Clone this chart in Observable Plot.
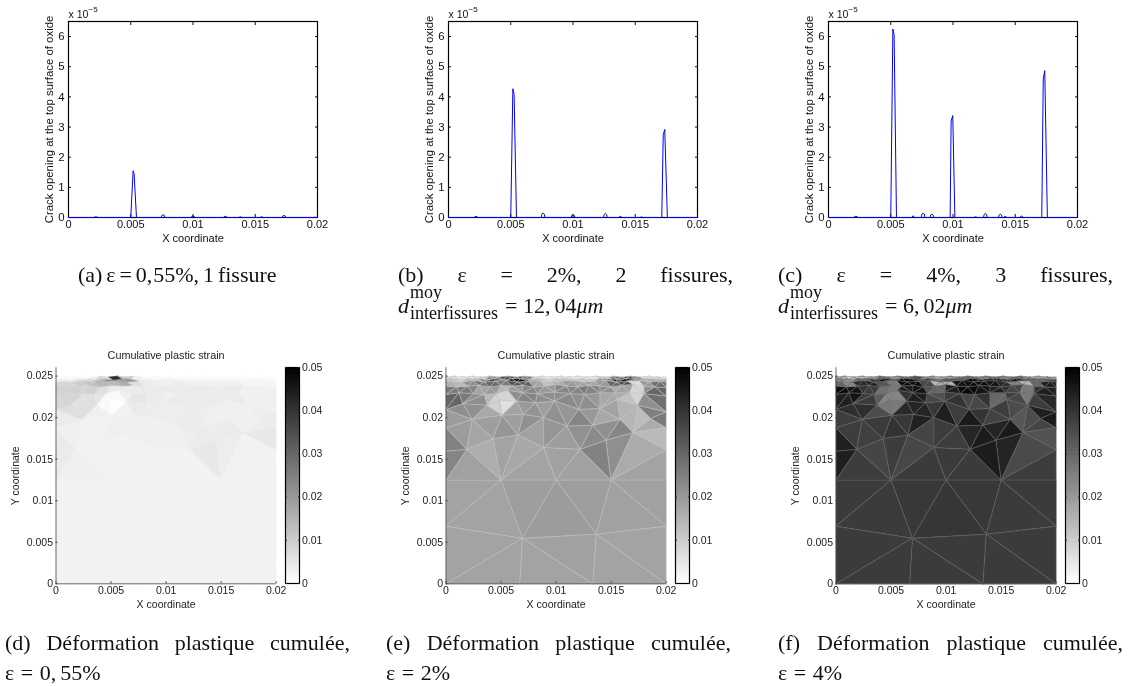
<!DOCTYPE html>
<html lang="fr"><head><meta charset="utf-8">
<script src="https://cdn.jsdelivr.net/npm/d3@7"></script>
<script src="https://cdn.jsdelivr.net/npm/@observablehq/plot@0.6"></script>
<style>
html,body{margin:0;padding:0;background:#fff}
#page{position:relative;width:1136px;height:686px;overflow:hidden;background:#fff}
.slot{position:absolute;filter:blur(0.35px)}
.slot svg{display:block;overflow:visible}
.cap{position:absolute;font-family:"Liberation Serif",serif;font-size:22px;line-height:20px;color:#111;white-space:nowrap;filter:blur(0.25px)}
.just{text-align:justify;text-align-last:justify;white-space:normal}
.ss{display:inline-block;vertical-align:top;position:relative;width:96px;height:20px;font-size:18px}
.ss span{position:absolute;left:1px}
.ss .up{top:-10px;line-height:12px}.ss .dn{top:9px;line-height:16px}
.c{margin-right:4px}
.c2{margin-right:1px}
</style></head><body><div id="page"></div>
<script>
// --- crack opening curves (x in model units, y in units of 1e-5)
const xTicks=[0,0.005,0.01,0.015,0.02];
const openTicks=[0,1,2,3,4,5,6];
const crackXA=[0,0.00205,0.0021,0.0022,0.0023,0.00235,0.005,0.00519,0.00527,0.00546,0.00745,0.0075,0.0076,0.0077,0.00775,0.00985,0.0099,0.01,0.0101,0.01015,0.01245,0.0125,0.0126,0.0127,0.01275,0.01365,0.0138,0.01395,0.01535,0.0155,0.01565,0.01715,0.0172,0.0173,0.0174,0.01745,0.0197,0.0198,0.0199,0.02];
const crackYA=[0,0,0.015,0.02,0.015,0,0,1.55,1.45,0,0,0.07,0.09,0.07,0,0,0.035,0.05,0.035,0,0,0.03,0.04,0.03,0,0,0.02,0,0,0.02,0,0,0.05,0.07,0.05,0,0,0.01,0,0];
const crackXB=[0,0.00205,0.0021,0.0022,0.0023,0.00235,0.005,0.00517,0.00527,0.00546,0.00745,0.0075,0.0076,0.0077,0.00775,0.00985,0.0099,0.01,0.0101,0.01015,0.01245,0.0125,0.0126,0.0127,0.01275,0.01365,0.0138,0.01395,0.01535,0.0155,0.01565,0.01713,0.01725,0.01737,0.01758,0.02];
const crackYB=[0,0,0.025,0.035,0.025,0,0,4.27,4.08,0,0,0.11,0.15,0.11,0,0,0.07,0.09,0.07,0,0,0.1,0.14,0.1,0,0,0.04,0,0,0.015,0,0,2.75,2.92,0,0];
const crackXC=[0,0.00205,0.0021,0.0022,0.0023,0.00235,0.005,0.00517,0.00527,0.00546,0.0067,0.0068,0.0069,0.00745,0.0075,0.0076,0.0077,0.00775,0.00815,0.0082,0.0083,0.0084,0.00845,0.00977,0.00985,0.00998,0.01015,0.01165,0.0118,0.01195,0.01245,0.0125,0.0126,0.0127,0.01275,0.01365,0.0137,0.0138,0.0139,0.01395,0.0141,0.0142,0.0143,0.01535,0.0155,0.01565,0.01713,0.01725,0.01737,0.01758,0.02];
const crackYC=[0,0,0.03,0.04,0.03,0,0,6.25,6.05,0,0,0.06,0,0,0.11,0.14,0.11,0,0,0.08,0.11,0.08,0,0,3.2,3.38,0,0,0.02,0,0,0.1,0.14,0.1,0,0,0.08,0.11,0.08,0,0,0.05,0,0,0.05,0,0,4.6,4.87,0,0];

// --- finite element mesh, x and y in units of 1e-3
const nodeX=[0,6.7,13.35,20, 0,6.95,13.65,20, 0,5,10,15,20, 0,1.9,4.3,6.55,8.9,12.2,14.55,17,20, 0,2.4,5.1,7.05,8.9,11,13.35,15.85,18.6,20, 0,1.55,3.75,4.9,6.45,8.15,9.9,12.1,14,15.55,17.4,20];
const nodeY=[0,0,0,0, 6.95,5.5,6,6.95, 12.5,12.5,12.5,12.5,12.5, 16,16.2,17.5,17.9,16.4,16.2,17.3,18.2,16.1, 18.8,19.8,20.3,20.4,20,19,19.1,19.8,19.9,18.8, 21,21.7,21.5,22.1,22,21.8,22,21,21.1,22.2,21.5,20.7];
const triangles=[[0,4,5],[0,5,1],[1,5,2],[5,6,2],[2,6,3],[6,7,3],[4,8,9],[4,9,5],[5,9,10],[5,10,6],[6,10,11],[6,11,7],[7,11,12],[8,13,14],[8,14,9],[14,15,9],[15,16,9],[16,17,9],[17,10,9],[17,18,10],[18,11,10],[18,19,11],[19,20,11],[20,21,11],[21,12,11],[13,22,14],[22,23,14],[23,15,14],[23,24,15],[24,16,15],[24,25,16],[25,26,16],[26,17,16],[26,27,17],[27,18,17],[27,28,18],[28,19,18],[28,29,19],[29,20,19],[29,42,20],[42,30,20],[30,31,20],[31,21,20],[22,32,23],[32,33,23],[33,34,23],[34,24,23],[34,35,24],[35,36,24],[36,25,24],[36,37,25],[37,26,25],[37,38,26],[38,27,26],[38,39,27],[39,28,27],[39,40,28],[40,29,28],[40,41,29],[41,42,29],[42,43,30],[30,43,31]];
const strainD=[2.5,2.5,2.5,2.5,2.5,2.5,2.5,2.5,2.5,2.5,2.5,2.5,2.5,4,3,2.5,2.5,2.5,2.5,2.5,2.5,4.5,3.5,2.5,2.5,4,3,2.5,2.5,3,3,3,3,3,3,3.5,4,3.5,4,3,3,3.5,4.5,4,6.5,6,3,1,0.2,2.5,4,4,3.5,3.5,3.5,4,3.5,3,3,3,3.5,4];
const strainE=[18,18,18,18.5,18,18,18,18,19,19.5,19,18.5,18.5,24,18.5,16,18,17,18,18.5,18.5,24.5,22,16.5,18,24.5,19.5,17.5,19,20.5,19,21.5,18.5,20.5,19,21.5,23,22,24,14.5,13,16.5,13.5,19.5,22,21.5,17,9,6,18,20,21,19,21.5,20.5,24,20,17,18,14.5,25,26];
const strainF=[38.5,38.5,38.5,38.5,38.5,38.5,38.5,38.5,39,39.5,39,38.5,38.5,44,38,36.5,38,36,38.5,38.5,38.5,44.5,43,35.5,38,44,38,37.5,38.5,40,39,43.5,36.5,38,38,42.5,44.5,43,45,33,35,36.5,34,38,41,41,35,26.5,26,42,43,43,39,44,38,45,40,37,38,35,44,45];
// fine rows near the top surface
const rowGX=[0,1.2,2.5,3.5,4.6,5.6,7,8.3,9.9,11.3,12.6,14,15.4,16.7,18,20];
const rowGY=[22.8,23,22.9,22.8,22.9,23.3,23,22.9,23.1,22.9,22.8,23,23,23,22.9,22.6];
const rowHX=[0,1,2,3,4,5,6,7,8,9,10,11,12,13,14,15,16,17,18,19,20];
const rowHY=[23.8,23.7,23.8,23.9,23.7,23.9,23.8,23.9,23.7,23.8,24,23.8,23.7,23.9,23.8,23.7,23.9,24,23.8,23.7,23.6];
const rowIX=[0,0.5,1.5,2.5,3.5,4.5,5.5,6.5,7.5,8.5,9.5,10.5,11.5,12.5,13.5,14.5,15.5,16.5,17.5,18.5,19.5,20];
const rowIY=[24.3,24.4,24.3,24.5,24.3,24.4,24.5,24.3,24.4,24.5,24.3,24.4,24.5,24.3,24.4,24.5,24.3,24.4,24.5,24.3,24.4,24.3];
const rowJX=[0,0.4,1.2,2,2.8,3.6,4.4,5.2,6,6.8,7.6,8.4,9.2,10,10.8,11.6,12.4,13.2,14,14.8,15.6,16.4,17.2,18,18.8,19.6,20];
const rowJY=[24.6,24.7,24.6,24.7,24.7,24.6,24.7,24.6,24.7,24.7,24.6,24.7,24.6,24.7,24.7,24.6,24.7,24.6,24.7,24.7,24.6,24.7,24.6,24.7,24.7,24.6,24.6];
const rowKX=[0,0.8,1.6,2.4,3.2,4,4.8,5.6,6.4,7.2,8,8.8,9.6,10.4,11.2,12,12.8,13.6,14.4,15.2,16,16.8,17.6,18.4,19.2,20];
const rowKY=[24.9,25,24.9,25,24.9,25,24.9,25,24.9,25,24.9,25,24.9,25,24.9,25,24.9,25,24.9,25,24.9,25,24.9,25,24.9,24.9];
// strain by strip and by 1e-3 wide x bin
const stripsD=[[8,8,6,5,1,1,3,5,4,4,3,4,4,4,4,4,4,3,3,3],[9,9,8,9,6,4,4,4,4,4,4,4,4,4,4,4,4,3,3,3],[8,8,10,12,14,14,16,6,4,3,3,4,3,3,3,3,3,2,2,2],[4,4,6,10,16,26,20,8,3,3,3,3,2,2,2,2,2,2,2,2],[1,1,1,3,8,42,12,3,1,1,1,1,1,1,1,1,1,1,1,1]];
const stripsE=[[30,26,22,14,9,8,22,24,22,22,22,23,22,20,17,16,12,8,22,28],[26,26,24,18,20,14,20,24,22,20,24,24,26,24,22,16,18,8,22,30],[16,14,22,28,30,26,34,32,18,12,16,20,18,18,20,30,34,6,20,28],[12,8,14,28,40,46,48,40,16,8,12,12,10,10,26,46,50,44,16,20],[6,3,4,10,24,36,38,26,6,3,4,4,3,4,10,26,34,24,5,6]];
const stripsF=[[44,46,38,32,24,24,40,44,36,34,38,40,36,40,30,38,36,26,38,42],[48,46,40,38,28,26,44,46,34,30,44,48,48,46,44,40,36,26,40,44],[30,24,42,44,34,26,48,48,36,14,14,46,48,48,46,42,24,14,30,44],[22,18,30,44,48,40,50,50,42,28,34,50,50,48,50,44,48,46,30,40],[14,8,10,20,30,20,30,36,20,14,18,30,30,24,30,24,30,24,14,18]];
const yTicks=[0,0.005,0.01,0.015,0.02,0.025];
const barTicks=[0,0.01,0.02,0.03,0.04,0.05];
const barLevels=d3.range(64);

const page=document.getElementById("page");
function place(node,left,top){const d=document.createElement("div");d.className="slot";d.style.left=left+"px";d.style.top=top+"px";d.appendChild(node);page.appendChild(d);}
const fmt=d=>String(d);
const blank=()=>"";

function crackChart(xs,ys,left){
  const rows=xs.map((x,i)=>({x,y:ys[i]}));
  place(Plot.plot({
    width:376,height:260,marginLeft:68,marginRight:59,marginTop:21,marginBottom:43,
    style:{fontFamily:"Liberation Sans",fontSize:"11px",background:"transparent",color:"#111"},
    x:{domain:[0,0.02]},y:{domain:[0,6.5]},
    marks:[
      Plot.frame({stroke:"#000",strokeWidth:1.2}),
      Plot.axisX({ticks:xTicks,tickSize:0,tickPadding:3,tickFormat:fmt,label:"X coordinate",labelAnchor:"center",labelOffset:24,labelArrow:"none"}),
      Plot.axisY({ticks:openTicks,tickSize:0,tickPadding:4,tickFormat:fmt,fontSize:11.4,label:"Crack opening at the top surface of oxide",labelAnchor:"center",labelOffset:24,labelArrow:"none"}),
      Plot.axisX({ticks:xTicks,anchor:"bottom",tickSize:-3,tickFormat:blank,label:null}),
      Plot.axisX({ticks:xTicks,anchor:"top",tickSize:-3,tickFormat:blank,label:null}),
      Plot.axisY({ticks:openTicks,anchor:"left",tickSize:-3,tickFormat:blank,label:null}),
      Plot.axisY({ticks:openTicks,anchor:"right",tickSize:-3,tickFormat:blank,label:null}),
      Plot.line(rows,{x:"x",y:"y",stroke:"#0000f0",strokeWidth:1}),
      Plot.text(["x 10"],{frameAnchor:"top-left",textAnchor:"start",lineAnchor:"middle",dy:-6.5,fontSize:10.5}),
      Plot.text(["\u22125"],{frameAnchor:"top-left",textAnchor:"start",lineAnchor:"middle",dx:20,dy:-12.5,fontSize:8})
    ]
  }),left,0);
}

function stitch(ax,ay,bx,by){
  const out=[];let i=0,j=0;
  while(i<ax.length-1||j<bx.length-1){
    if(j===bx.length-1||(i<ax.length-1&&ax[i+1]<=bx[j+1])){out.push([[ax[i],ay[i]],[ax[i+1],ay[i+1]],[bx[j],by[j]]]);i++;}
    else{out.push([[ax[i],ay[i]],[bx[j+1],by[j+1]],[bx[j],by[j]]]);j++;}
  }
  return out;
}
const rowFX=nodeX.slice(32),rowFY=nodeY.slice(32);
const upperRows=[[rowFX,rowFY],[rowGX,rowGY],[rowHX,rowHY],[rowIX,rowIY],[rowJX,rowJY],[rowKX,rowKY]];

function meshRows(strain,strips){
  const rows=[];let id=0;
  triangles.forEach((t,n)=>{for(const k of t)rows.push({x:nodeX[k]/1000,y:nodeY[k]/1000,tri:id,v:strain[n]/1000});id++;});
  strips.forEach((bins,s)=>{
    const [ax,ay]=upperRows[s],[bx,by]=upperRows[s+1];
    for(const tri of stitch(ax,ay,bx,by)){
      const cx=(tri[0][0]+tri[1][0]+tri[2][0])/3;
      const v=bins[Math.min(19,Math.floor(cx))]/1000;
      for(const p of tri)rows.push({x:p[0]/1000,y:p[1]/1000,tri:id,v});
      id++;
    }
  });
  return rows;
}
const grayScale={type:"linear",domain:[0,0.05],range:["#ffffff","#000000"]};

function meshChart(strain,strips,edge,left){
  const rows=meshRows(strain,strips);
  place(Plot.plot({
    width:285,height:280,marginLeft:55.5,marginRight:9.3,marginTop:27.3,marginBottom:36.7,
    style:{fontFamily:"Liberation Sans",fontSize:"10.5px",background:"transparent",color:"#222"},
    x:{domain:[0,0.02]},y:{domain:[0,0.026]},color:grayScale,
    marks:[
      Plot.line(rows,{x:"x",y:"y",z:"tri",fill:"v",stroke:edge==null?"v":edge,strokeWidth:edge==null?0.4:0.5,curve:"linear-closed",strokeLinejoin:"round"}),
      Plot.ruleX([0],{stroke:"#444",strokeWidth:0.8}),
      Plot.ruleY([0],{stroke:"#444",strokeWidth:0.8}),
      Plot.axisX({ticks:xTicks,tickSize:0,tickPadding:3,tickFormat:fmt,label:"X coordinate",labelAnchor:"center",labelOffset:24,labelArrow:"none"}),
      Plot.axisY({ticks:yTicks,tickSize:0,tickPadding:3,tickFormat:fmt,label:"Y coordinate",labelAnchor:"center",labelOffset:44,labelArrow:"none"}),
      Plot.axisX({ticks:xTicks,anchor:"bottom",tickSize:-2,tickFormat:blank,label:null,stroke:"#444"}),
      Plot.axisY({ticks:yTicks,anchor:"left",tickSize:-2,tickFormat:blank,label:null,stroke:"#444"}),
      Plot.text(["Cumulative plastic strain"],{frameAnchor:"top",lineAnchor:"middle",dy:-12.3,fontSize:10.8})
    ]
  }),left,340);
  const bar=Plot.plot({
    width:50,height:280,marginLeft:2,marginRight:34,marginTop:27,marginBottom:37,
    style:{fontFamily:"Liberation Sans",fontSize:"10.5px",background:"transparent",color:"#222"},
    x:{domain:[0,1],axis:null},y:{domain:[0,0.05]},color:grayScale,
    marks:[
      Plot.rect(barLevels,{x1:0,x2:1,y1:d=>d*0.05/64,y2:d=>(d+1)*0.05/64,fill:d=>(d+0.5)*0.05/64,shapeRendering:"crispEdges"}),
      Plot.frame({stroke:"#000",strokeWidth:1.2}),
      Plot.axisY({ticks:barTicks,anchor:"right",tickSize:0,tickPadding:2.5,tickFormat:fmt,label:null}),
      Plot.axisY({ticks:barTicks,anchor:"right",tickSize:-2,tickFormat:blank,label:null}),
      Plot.axisY({ticks:barTicks,anchor:"left",tickSize:-2,tickFormat:blank,label:null})
    ]
  });
  place(bar,left+283,340);
}

crackChart(crackXA,crackYA,0);
crackChart(crackXB,crackYB,380);
crackChart(crackXC,crackYC,760);
meshChart(strainD,stripsD,null,0);
meshChart(strainE,stripsE,"#bebebe",389.5);
meshChart(strainF,stripsF,"#646464",779.5);

// --- captions
function cap(html,left,top,width,spacing){const d=document.createElement("div");d.className="cap"+(width?" just":"");d.style.left=left+"px";d.style.top=top+"px";if(width)d.style.width=width+"px";if(spacing)d.style.wordSpacing=spacing+"px";d.innerHTML=html;page.appendChild(d);}
const dist=v=>`<i>d</i><span class="ss"><span class="up">moy</span><span class="dn">interfissures</span></span>= ${v}<i>\u03bcm</i>`;
const c='<span class="c">,</span>';
cap('(a) \u03b5 = 0<span class="c2">,</span>55%, 1 fissure',78,265,0,-1.6);
cap("(b) \u03b5 = 2%, 2 fissures,",398,265,335);
cap(dist("12"+c+"04"),398,296);
cap("(c) \u03b5 = 4%, 3 fissures,",778,265,335);
cap(dist("6"+c+"02"),778,296);
cap("(d) D\u00e9formation plastique cumul\u00e9e,",5,633,345);
cap("\u03b5 = 0"+c+"55%",5,663,0,1);
cap("(e) D\u00e9formation plastique cumul\u00e9e,",386,633,345);
cap("\u03b5 = 2%",386,663,0,1);
cap("(f) D\u00e9formation plastique cumul\u00e9e,",778,633,345);
cap("\u03b5 = 4%",778,663,0,1);
</script></body></html>
